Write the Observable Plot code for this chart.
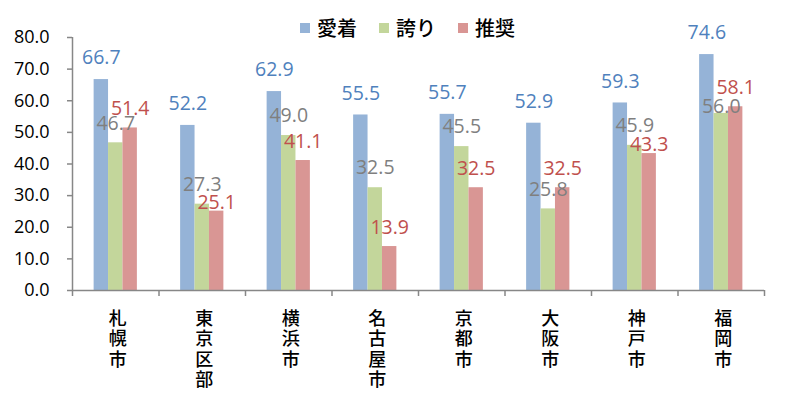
<!DOCTYPE html>
<html>
<head>
<meta charset="utf-8">
<script src="https://cdn.jsdelivr.net/npm/d3@7"></script>
<script src="https://cdn.jsdelivr.net/npm/@observablehq/plot@0.6"></script>
<style>
  html, body { margin: 0; padding: 0; background: #fff; }
  #chart { position: relative; width: 795px; height: 401px; overflow: hidden; }
  #legend { position: absolute; left: 300px; top: 11px; }
  #legend .lg-swatches { margin: 0; font-family: "Noto Sans CJK JP", sans-serif; font-size: 20px; font-weight: 500; color: #000; }
  #legend .lg-swatches-wrap { min-height: 33px; }
  #legend .lg-swatch { margin-right: 22px; }
  #legend .lg-swatch > svg { margin-right: 7px; }
</style>
</head>
<body>
<div id="chart"><div id="legend"></div></div>
<script>
// ---- data ----
const cities = ["札幌市", "東京区部", "横浜市", "名古屋市", "京都市", "大阪市", "神戸市", "福岡市"];
const series = ["愛着", "誇り", "推奨"];
const aichaku = [66.7, 52.2, 62.9, 55.5, 55.7, 52.9, 59.3, 74.6];
const hokori  = [46.7, 27.3, 49.0, 32.5, 45.5, 25.8, 45.9, 56.0];
const suisho  = [51.4, 25.1, 41.1, 13.9, 32.5, 32.5, 43.3, 58.1];
const yTicks = [0, 10, 20, 30, 40, 50, 60, 70, 80];

// ---- styles ----
const barColors = ["#95b3d7", "#c3d69b", "#d99694"];
const labelColors = ["#4f81bd", "#7f7f7f", "#c0504d"];
const labelDy = [-21.5, -19.5, -19];          // default label offset per series
const labelNudge = {"東京区部|推奨": 10.5, "神戸市|推奨": 10, "福岡市|誇り": 12.5};
const axisColor = "#878787";

const values = [aichaku, hokori, suisho];
const data = [];
cities.forEach((c, i) => values.forEach((arr, j) => data.push({city: c, i, series: series[j], j, value: arr[i]})));

const groupShare = 0.5;             // share of each category used by the bar group
const x1 = d => d.i + (1 - groupShare) / 2 + d.j * groupShare / 3;
const x2 = d => d.i + (1 - groupShare) / 2 + (d.j + 1) * groupShare / 3;
const xm = d => (x1(d) + x2(d)) / 2;

const dyOf = d => labelDy[d.j] + (labelNudge[d.city + "|" + d.series] || 0);
const labelGroups = d3.groups(data, dyOf);

const plot = Plot.plot({
  width: 795,
  height: 401,
  marginLeft: 72,
  marginRight: 31,
  marginTop: 37,
  marginBottom: 111,
  style: {fontFamily: "Open Sans", background: "#fff", overflow: "visible"},
  x: {domain: [0, cities.length]},
  y: {domain: [0, 80]},
  color: {domain: series, range: barColors},
  marks: [
    Plot.rectY(data, {x1, x2, y: "value", fill: "series"}),
    Plot.ruleX([0], {y1: 0, y2: 80, stroke: axisColor, strokeWidth: 1.5}),
    Plot.ruleY([0], {stroke: axisColor, strokeWidth: 1.5}),
    Plot.axisY({ticks: yTicks, tickSize: 5, tickPadding: 18, tickFormat: d => d.toFixed(1),
      stroke: axisColor, strokeWidth: 1.5, fill: "#000", fontSize: 18, fontFamily: "Open Sans", label: null}),
    Plot.axisX({ticks: d3.range(0, cities.length + 1), tickSize: 6, tickFormat: () => "",
      stroke: axisColor, strokeWidth: 1.5, label: null}),
    Plot.text(cities, {x: (d, i) => i + 0.5, y: () => 0, text: d => [...d].join("\n"),
      lineAnchor: "top", dy: 20, dx: 2, fontSize: 18, lineHeight: 1.13, fill: "#000",
      fontFamily: "Noto Sans CJK JP", fontWeight: 500}),
    ...labelGroups.map(([dy, rows]) => Plot.text(rows, {x: xm, y: "value", text: d => d.value.toFixed(1),
      dy, fill: d => labelColors[d.j], fontSize: 19.5, fontFamily: "Open Sans"}))
  ]
});

document.getElementById("chart").appendChild(plot);
const legend = Plot.legend({color: {domain: series, range: barColors}, legend: "swatches", swatchSize: 10, className: "lg"});
document.getElementById("legend").appendChild(legend);
</script>
</body>
</html>
